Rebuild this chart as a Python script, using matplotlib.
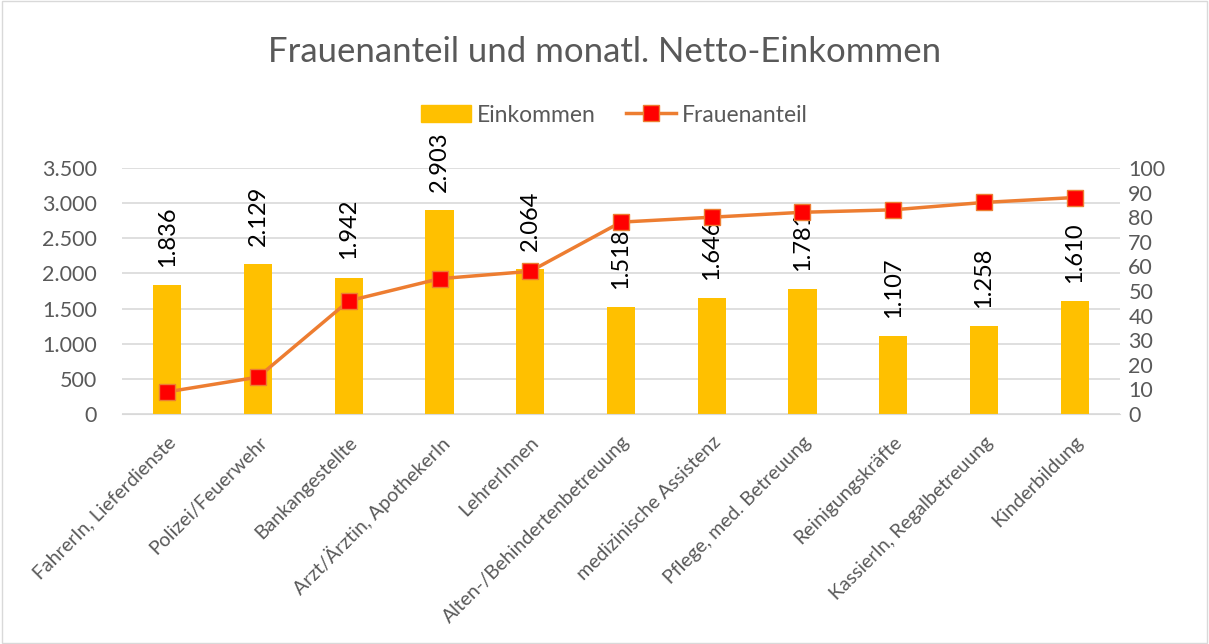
import matplotlib
matplotlib.use('Agg')
import matplotlib.pyplot as plt
from matplotlib.patches import Rectangle
from matplotlib.lines import Line2D

plt.rcParams['font.family'] = ['Lato', 'DejaVu Sans']

categories = ['FahrerIn, Lieferdienste', 'Polizei/Feuerwehr', 'Bankangestellte',
              'Arzt/Ärztin, ApothekerIn', 'LehrerInnen', 'Alten-/Behindertenbetreuung',
              'medizinische Assistenz', 'Pflege, med. Betreuung', 'Reinigungskräfte',
              'KassierIn, Regalbetreuung', 'Kinderbildung']
einkommen = [1836, 2129, 1942, 2903, 2064, 1518, 1646, 1781, 1107, 1258, 1610]
frauenanteil = [9, 15, 46, 55, 58, 78, 80, 82, 83, 86, 88]

left_ticks = [0, 500, 1000, 1500, 2000, 2500, 3000, 3500]
right_ticks = list(range(0, 101, 10))

gray = '#595959'
grid = '#d9d9d9'


def de_fmt(v):
    return f'{v:,}'.replace(',', '.')


fig = plt.figure(figsize=(12.09, 6.44), dpi=100)
fig.patches.append(Rectangle((0.002, 0.002), 0.996, 0.996, transform=fig.transFigure,
                             fill=False, edgecolor='#d9d9d9', lw=1))
ax = fig.add_axes([122 / 1209, 1 - 414 / 644, (1120 - 122) / 1209, (414 - 168) / 644])
ax2 = ax.twinx()

x = list(range(len(categories)))
ax.bar(x, einkommen, width=0.31, color='#FFC000', zorder=2)
for xi, v in zip(x, einkommen):
    ax.annotate(de_fmt(v), (xi, v), xytext=(0, 13), textcoords='offset points',
                rotation=90, ha='center', va='bottom', fontsize=17, color='black')

ax.set_ylim(0, 3500)
ax.set_xlim(-0.5, len(categories) - 0.5)
ax.set_yticks(left_ticks)
ax.set_yticklabels([de_fmt(t) for t in left_ticks])
ax.yaxis.grid(True, color=grid, lw=1.2, zorder=0)
ax.set_axisbelow(True)
ax.set_xticks(x)
ax.set_xticklabels(categories, rotation=45, ha='right', rotation_mode='anchor',
                   fontsize=14, color=gray)
for s in ax.spines.values():
    s.set_visible(False)
ax.spines['bottom'].set_visible(True)
ax.spines['bottom'].set_color(grid)
ax.tick_params(axis='y', length=0, labelsize=15.5, colors=gray, pad=18)
ax.tick_params(axis='x', length=0, labelsize=14, colors=gray, pad=14)

ax2.plot(x, frauenanteil, color='#ED7D31', lw=2.5, marker='s', markersize=11,
         markerfacecolor='#FF0000', markeredgecolor='#ED7D31', markeredgewidth=1, zorder=3)
ax2.set_ylim(0, 100)
ax2.set_yticks(right_ticks)
for s in ax2.spines.values():
    s.set_visible(False)
ax2.tick_params(axis='y', length=0, labelsize=15.5, colors=gray, pad=6)

fig.text(0.5, 1 - 52 / 644, 'Frauenanteil und monatl. Netto-Einkommen', ha='center',
         va='center', fontsize=25, color=gray)

handles = [Rectangle((0, 0), 1, 1, color='#FFC000'),
           Line2D([0], [0], color='#ED7D31', lw=2.5, marker='s', markersize=11,
                  markerfacecolor='#FF0000', markeredgecolor='#ED7D31')]
fig.legend(handles, ['Einkommen', 'Frauenanteil'], loc='center', ncol=2,
           bbox_to_anchor=(0.508, 1 - 115 / 644), frameon=False, fontsize=16.5,
           labelcolor=gray, handlelength=2.2, handleheight=0.8, columnspacing=1.3,
           handletextpad=0.25)

fig.savefig('out.png', dpi=100)
